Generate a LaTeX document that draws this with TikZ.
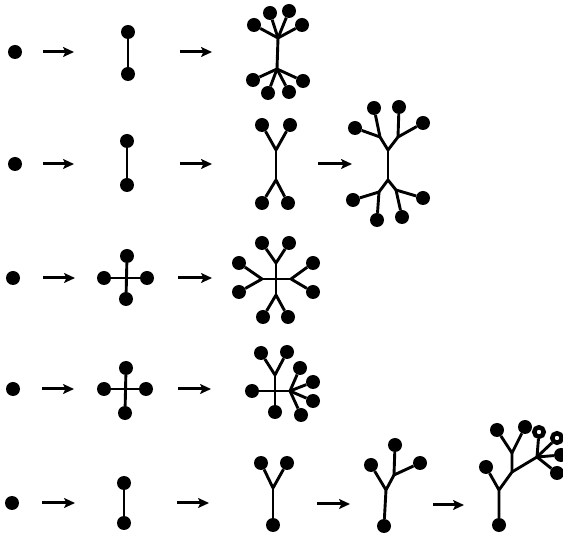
\documentclass[tikz,border=0pt]{standalone}
\usetikzlibrary{arrows.meta}
\begin{document}
\begin{tikzpicture}[x=1pt,y=-1pt,
  dot/.style={circle,fill=black,draw=none,inner sep=0pt,minimum size=14pt},
  hdot/.style={circle,fill=white,draw=black,line width=4.5pt,inner sep=0pt,minimum size=9.5pt},
  edge/.style={line width=2.9pt},
  arr/.style={line width=3pt,-{Stealth[length=11pt,width=10pt,inset=2.5pt]}}]
\useasboundingbox (0,0) rectangle (563,534);
% ---------- Row 1 ----------
\node[dot] (r1d) at (15,52) {};
\coordinate (r1a1s) at (43,52); \coordinate (r1a1e) at (74,52);
\draw[arr] (r1a1s) -- (r1a1e);
\node[dot] (r1vt) at (128,32) {};
\node[dot] (r1vb) at (128,74) {};
\draw[edge] (r1vt) -- (r1vb);
\coordinate (r1a2s) at (180,52); \coordinate (r1a2e) at (212,52);
\draw[arr] (r1a2s) -- (r1a2e);
\coordinate (r1t) at (278,38); \coordinate (r1b) at (277,69);
\node[dot] (r1l1) at (254,25) {};
\node[dot] (r1l2) at (270,13) {};
\node[dot] (r1l3) at (289,11) {};
\node[dot] (r1l4) at (302,25) {};
\node[dot] (r1l5) at (253,80) {};
\node[dot] (r1l6) at (268,93) {};
\node[dot] (r1l7) at (289,92) {};
\node[dot] (r1l8) at (303,81) {};
\draw[edge] (r1t) -- (r1b);
\foreach \n in {r1l1,r1l2,r1l3,r1l4} \draw[edge] (r1t) -- (\n);
\foreach \n in {r1l5,r1l6,r1l7,r1l8} \draw[edge] (r1b) -- (\n);
% ---------- Row 2 ----------
\node[dot] (r2d) at (15,164) {};
\coordinate (r2a1s) at (43,164); \coordinate (r2a1e) at (74,164);
\draw[arr] (r2a1s) -- (r2a1e);
\node[dot] (r2vt) at (127,141) {};
\node[dot] (r2vb) at (127,185) {};
\draw[edge] (r2vt) -- (r2vb);
\coordinate (r2a2s) at (180,164); \coordinate (r2a2e) at (212,164);
\draw[arr] (r2a2s) -- (r2a2e);
\coordinate (r2yt) at (276,150); \coordinate (r2yb) at (276,180);
\node[dot] (r2y1) at (262,125) {};
\node[dot] (r2y2) at (290,125) {};
\node[dot] (r2y3) at (262,203) {};
\node[dot] (r2y4) at (288,203) {};
\draw[edge] (r2yt) -- (r2yb);
\draw[edge] (r2yt) -- (r2y1); \draw[edge] (r2yt) -- (r2y2);
\draw[edge] (r2yb) -- (r2y3); \draw[edge] (r2yb) -- (r2y4);
\coordinate (r2a3s) at (318,164); \coordinate (r2a3e) at (352,164);
\draw[arr] (r2a3s) -- (r2a3e);
\coordinate (r2t) at (388,150); \coordinate (r2b) at (388,180);
\coordinate (r2tl) at (380,137); \coordinate (r2tr) at (398,137);
\coordinate (r2bl) at (379,192); \coordinate (r2br) at (396,190);
\node[dot] (r2l1) at (355,128) {};
\node[dot] (r2l2) at (374,108) {};
\node[dot] (r2l3) at (399,107) {};
\node[dot] (r2l4) at (423,123) {};
\node[dot] (r2l5) at (353,200) {};
\node[dot] (r2l6) at (377,220) {};
\node[dot] (r2l7) at (402,217) {};
\node[dot] (r2l8) at (423,198) {};
\draw[edge] (r2t) -- (r2b);
\draw[edge] (r2t) -- (r2tl); \draw[edge] (r2t) -- (r2tr);
\draw[edge] (r2b) -- (r2bl); \draw[edge] (r2b) -- (r2br);
\draw[edge] (r2tl) -- (r2l1); \draw[edge] (r2tl) -- (r2l2);
\draw[edge] (r2tr) -- (r2l3); \draw[edge] (r2tr) -- (r2l4);
\draw[edge] (r2bl) -- (r2l5); \draw[edge] (r2bl) -- (r2l6);
\draw[edge] (r2br) -- (r2l7); \draw[edge] (r2br) -- (r2l8);
% ---------- Row 3 ----------
\node[dot] (r3d) at (13,278) {};
\coordinate (r3a1s) at (43,278); \coordinate (r3a1e) at (75,278);
\draw[arr] (r3a1s) -- (r3a1e);
\node[dot] (r3ct) at (127,256) {};
\node[dot] (r3cl) at (104,278) {};
\node[dot] (r3cr) at (147,278) {};
\node[dot] (r3cb) at (126,299) {};
\draw[edge] (r3ct) -- (r3cb);
\draw[edge] (r3cl) -- (r3cr);
\coordinate (r3a2s) at (178,278); \coordinate (r3a2e) at (212,278);
\draw[arr] (r3a2s) -- (r3a2e);
\coordinate (r3t) at (276,263); \coordinate (r3b) at (276,295);
\coordinate (r3l) at (262,279); \coordinate (r3r) at (291,279);
\node[dot] (r3s1) at (262,243) {};
\node[dot] (r3s2) at (289,243) {};
\node[dot] (r3s3) at (239,263) {};
\node[dot] (r3s4) at (239,292) {};
\node[dot] (r3s5) at (313,263) {};
\node[dot] (r3s6) at (313,292) {};
\node[dot] (r3s7) at (263,317) {};
\node[dot] (r3s8) at (288,317) {};
\draw[edge] (r3t) -- (r3b);
\draw[edge] (r3l) -- (r3r);
\draw[edge] (r3t) -- (r3s1); \draw[edge] (r3t) -- (r3s2);
\draw[edge] (r3l) -- (r3s3); \draw[edge] (r3l) -- (r3s4);
\draw[edge] (r3r) -- (r3s5); \draw[edge] (r3r) -- (r3s6);
\draw[edge] (r3b) -- (r3s7); \draw[edge] (r3b) -- (r3s8);
% ---------- Row 4 ----------
\node[dot] (r4d) at (13,389) {};
\coordinate (r4a1s) at (42,389); \coordinate (r4a1e) at (74,389);
\draw[arr] (r4a1s) -- (r4a1e);
\node[dot] (r4ct) at (126,368) {};
\node[dot] (r4cl) at (104,389) {};
\node[dot] (r4cr) at (146,389) {};
\node[dot] (r4cb) at (125,413) {};
\draw[edge] (r4ct) -- (r4cb);
\draw[edge] (r4cl) -- (r4cr);
\coordinate (r4a2s) at (178,389); \coordinate (r4a2e) at (211,389);
\draw[arr] (r4a2s) -- (r4a2e);
\coordinate (r4t) at (275,375); \coordinate (r4r) at (290,391);
\node[dot] (r4s1) at (261,353) {};
\node[dot] (r4s2) at (287,352) {};
\node[dot] (r4sl) at (252,391) {};
\node[dot] (r4sb) at (275,412) {};
\node[dot] (r4s3) at (300,368) {};
\node[dot] (r4s4) at (313,382) {};
\node[dot] (r4s5) at (313,401) {};
\node[dot] (r4s6) at (301,415) {};
\draw[edge] (r4t) -- (r4sb);
\draw[edge] (r4sl) -- (r4r);
\draw[edge] (r4t) -- (r4s1); \draw[edge] (r4t) -- (r4s2);
\foreach \n in {r4s3,r4s4,r4s5,r4s6} \draw[edge] (r4r) -- (\n);
% ---------- Row 5 ----------
\node[dot] (r5d) at (12,503) {};
\coordinate (r5a1s) at (42,503); \coordinate (r5a1e) at (75,503);
\draw[arr] (r5a1s) -- (r5a1e);
\node[dot] (r5vt) at (124,483) {};
\node[dot] (r5vb) at (124,523) {};
\draw[edge] (r5vt) -- (r5vb);
\coordinate (r5a2s) at (177,503); \coordinate (r5a2e) at (209,503);
\draw[arr] (r5a2s) -- (r5a2e);
\coordinate (r5y) at (273,488);
\node[dot] (r5y1) at (261,463) {};
\node[dot] (r5y2) at (287,463) {};
\node[dot] (r5y3) at (273,525) {};
\draw[edge] (r5y) -- (r5y3);
\draw[edge] (r5y) -- (r5y1); \draw[edge] (r5y) -- (r5y2);
\coordinate (r5a3s) at (317,504); \coordinate (r5a3e) at (350,504);
\draw[arr] (r5a3s) -- (r5a3e);
\coordinate (r5b1) at (386,490); \coordinate (r5b2) at (394,475);
\node[dot] (r5u1) at (384,526) {};
\node[dot] (r5u2) at (371,465) {};
\node[dot] (r5u3) at (395,445) {};
\node[dot] (r5u4) at (420,463) {};
\draw[edge] (r5u1) -- (r5b1) -- (r5b2);
\draw[edge] (r5b1) -- (r5u2);
\draw[edge] (r5b2) -- (r5u3);
\draw[edge] (r5b2) -- (r5u4);
\coordinate (r5a4s) at (433,505); \coordinate (r5a4e) at (464,505);
\draw[arr] (r5a4s) -- (r5a4e);
\coordinate (r5c1) at (499,490); \coordinate (r5c2) at (512,472);
\coordinate (r5c3) at (512,453); \coordinate (r5c4) at (537,457);
\node[dot] (r5w1) at (499,525) {};
\node[dot] (r5w2) at (486,467) {};
\node[dot] (r5w3) at (497,430) {};
\node[dot] (r5w4) at (525,427) {};
\node[hdot] (r5w5) at (539,432) {};
\node[hdot] (r5w6) at (557,438) {};
\node[dot] (r5w7) at (561,455) {};
\node[dot] (r5w8) at (557,473) {};
\draw[edge] (r5w1) -- (r5c1) -- (r5c2) -- (r5c3);
\draw[edge] (r5c1) -- (r5w2);
\draw[edge] (r5c3) -- (r5w3);
\draw[edge] (r5c3) -- (r5w4);
\draw[edge] (r5c2) -- (r5c4);
\foreach \n in {r5w5,r5w6,r5w7,r5w8} \draw[edge] (r5c4) -- (\n);
\end{tikzpicture}
\end{document}
